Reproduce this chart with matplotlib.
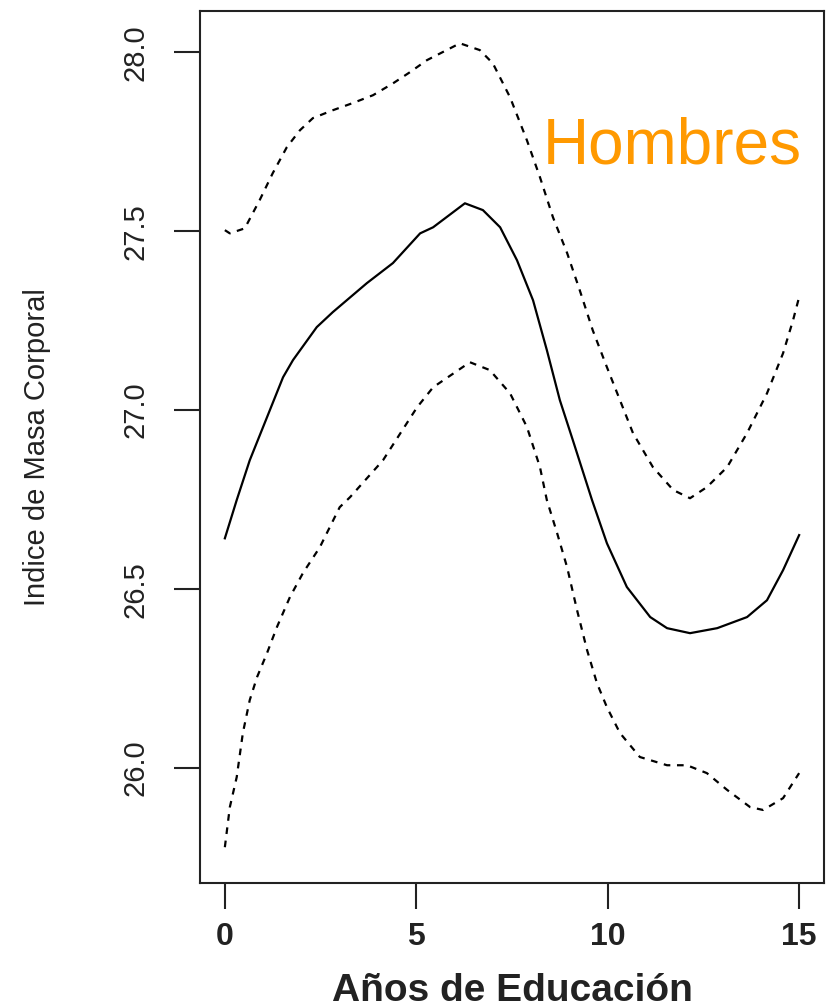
import numpy as np
import matplotlib.pyplot as plt

plt.rcParams['font.family'] = ['Liberation Sans', 'DejaVu Sans']

# curva ajustada (linea continua)
x_fit = [0.0, 0.31, 0.65, 1.10, 1.52, 1.78, 2.40, 2.82, 3.71, 4.39, 5.10, 5.44, 6.27,
         6.74, 7.19, 7.63, 8.05, 8.41, 8.75, 9.09, 9.59, 9.98, 10.50, 11.11, 11.55,
         12.15, 12.86, 13.64, 14.16, 14.58, 15.0]
y_fit = [26.642, 26.749, 26.860, 26.980, 27.092, 27.140, 27.232, 27.274, 27.355, 27.411,
         27.494, 27.511, 27.578, 27.559, 27.511, 27.419, 27.307, 27.168, 27.028, 26.916,
         26.749, 26.628, 26.506, 26.422, 26.391, 26.377, 26.391, 26.422, 26.469, 26.553,
         26.651]

# banda superior (linea discontinua)
x_sup = [0.0, 0.13, 0.52, 0.91, 1.25, 1.62, 1.96, 2.30, 2.82, 3.34, 3.87, 4.39, 4.83,
         5.28, 6.14, 6.66, 7.00, 7.45, 7.89, 8.23, 8.57, 8.94, 9.27, 9.61, 9.98, 10.32,
         10.66, 11.18, 11.71, 12.15, 12.59, 13.12, 13.64, 14.16, 14.58, 14.84, 15.0]
y_sup = [27.503, 27.494, 27.508, 27.587, 27.662, 27.735, 27.782, 27.816, 27.838, 27.858,
         27.880, 27.913, 27.944, 27.978, 28.025, 28.006, 27.969, 27.874, 27.754, 27.651,
         27.539, 27.439, 27.335, 27.223, 27.120, 27.028, 26.936, 26.841, 26.777, 26.754,
         26.785, 26.841, 26.936, 27.047, 27.159, 27.251, 27.316]

# banda inferior (linea discontinua)
x_inf = [0.0, 0.13, 0.31, 0.47, 0.65, 0.84, 1.10, 1.36, 1.70, 2.04, 2.48, 3.00, 3.27,
         4.13, 5.02, 5.44, 6.40, 6.92, 7.45, 7.89, 8.23, 8.41, 8.68, 8.94, 9.20, 9.46,
         9.72, 9.98, 10.32, 10.84, 11.55, 12.07, 12.59, 13.12, 13.72, 14.06, 14.58, 15.0]
y_inf = [25.779, 25.891, 25.975, 26.098, 26.190, 26.254, 26.321, 26.394, 26.478, 26.545,
         26.617, 26.729, 26.757, 26.860, 27.008, 27.064, 27.134, 27.112, 27.047, 26.953,
         26.841, 26.749, 26.656, 26.561, 26.441, 26.330, 26.237, 26.170, 26.098, 26.031,
         26.008, 26.008, 25.986, 25.939, 25.891, 25.883, 25.916, 25.986]

x_ticks = [0, 5, 10, 15]
y_ticks = [26.0, 26.5, 27.0, 27.5, 28.0]
y_tick_labels = ['26.0', '26.5', '27.0', '27.5', '28.0']

fig = plt.figure(figsize=(8.27, 10.08), dpi=100)
ax = fig.add_axes([0.2418, 0.124, 0.7546, 0.865])

ax.plot(x_fit, y_fit, color='black', lw=1.6, solid_joinstyle='round')
ax.plot(x_sup, y_sup, color='black', lw=1.6, linestyle=(0, (3, 3)))
ax.plot(x_inf, y_inf, color='black', lw=1.6, linestyle=(0, (3, 3)))

ax.set_xlim(-0.65, 15.65)
ax.set_ylim(25.679, 28.115)

ax.set_xticks(x_ticks)
ax.set_yticks(y_ticks)
ax.set_yticklabels(y_tick_labels)
ax.tick_params(axis='both', direction='out', length=19, width=1.5, color='#222222')
ax.tick_params(axis='x', labelsize=23, pad=9)
ax.tick_params(axis='y', labelsize=21, pad=17, labelrotation=90)
plt.setp(ax.get_yticklabels(), va='center', color='#222222')
plt.setp(ax.get_xticklabels(), fontweight='bold', color='#222222')
for s in ax.spines.values():
    s.set_linewidth(1.5)
    s.set_color('#222222')

ax.set_xlabel('Años de Educación', fontsize=28, fontweight='bold', color='#222222')
ax.xaxis.set_label_coords(0.5, -0.103)
ax.set_ylabel('Indice de Masa Corporal', fontsize=21, color='#222222')
ax.yaxis.set_label_coords(-0.238, 0.5)

ax.text(8.30, 27.69, 'Hombres', fontsize=46, color='#FF9900', ha='left', va='baseline')

fig.savefig('out.png', dpi=100)
